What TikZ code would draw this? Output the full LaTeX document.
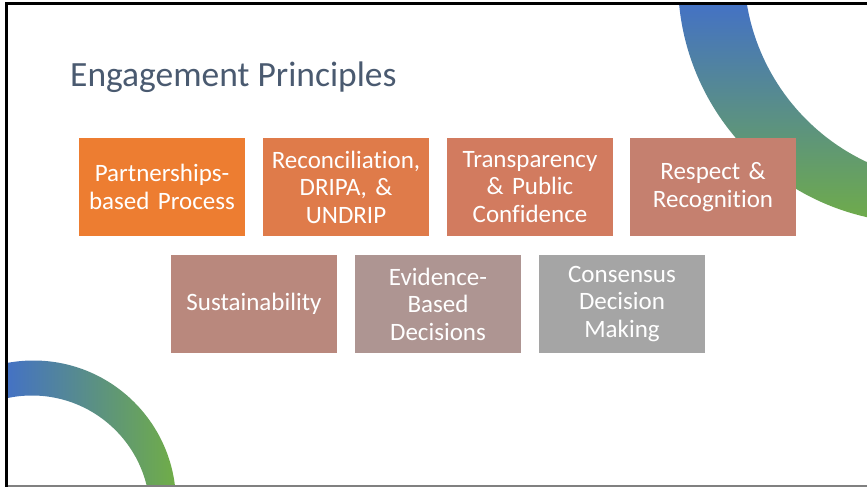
\documentclass[tikz,border=0pt]{standalone}
\usepackage{fontspec}
\setmainfont{Carlito}[Ligatures=NoCommon]
\usepackage{tikz}
\definecolor{slate}{HTML}{4A5A70}
\definecolor{ringblue}{HTML}{4472C4}
\definecolor{ringgreen}{HTML}{70AD47}
\definecolor{boxA}{HTML}{ED7D31}
\definecolor{boxB}{HTML}{DF7B4A}
\definecolor{boxC}{HTML}{D27B5F}
\definecolor{boxD}{HTML}{C5806F}
\definecolor{boxE}{HTML}{B9887D}
\definecolor{boxF}{HTML}{AE9592}
\definecolor{boxG}{HTML}{A5A5A5}

\begin{document}
\begin{tikzpicture}[x=1pt,y=-1pt,
  principle/.style={minimum width=166pt,minimum height=98pt,inner sep=0pt,text width=162pt,align=center,text=white,font=\fontsize{25}{27.5}\selectfont}]
\useasboundingbox (0,0) rectangle (867,487);
% rings
\begin{scope}[even odd rule]
\clip (0,4) rectangle (867,487);
\clip (920,-19) circle (242pt) (957,-31) circle (213pt);
\shade[top color=ringblue,bottom color=ringgreen] (660,4) rectangle (867,225);
\end{scope}
\begin{scope}[even odd rule]
\clip (7,0) rectangle (867,487);
\clip (33.5,503) circle (142.5pt) (32,513.5) circle (118pt);
\shade[left color=ringblue,right color=ringgreen] (7,355) rectangle (176,487);
\end{scope}
\node[anchor=base west,inner sep=0pt,text=slate,font=\fontsize{35.5}{40}\selectfont] (title) at (70,86) {Engagement Principles};
\node[principle,fill=boxA] (partner) at (162,187) {Partnerships-\\based Process};
\node[principle,fill=boxB] (recon) at (346,187) {Reconciliation,\\DRIPA, \&\\UNDRIP};
\node[principle,fill=boxC] (transp) at (530,187) {Transparency\\\& Public\\Confidence};
\node[principle,fill=boxD] (respect) at (713,187) {Respect \&\\Recognition};
\node[principle,fill=boxE] (sustain) at (254,304) {Sustainability};
\node[principle,fill=boxF] (evidence) at (438,304) {Evidence-\\Based\\Decisions};
\node[principle,fill=boxG] (consensus) at (622,304) {Consensus\\Decision\\Making};
% frame
\draw[line width=3pt] (6.5,487) -- (6.5,3.7) -- (867,3.7);
\draw[gray,line width=1.5pt] (8,486) -- (867,486);
\end{tikzpicture}
\end{document}
